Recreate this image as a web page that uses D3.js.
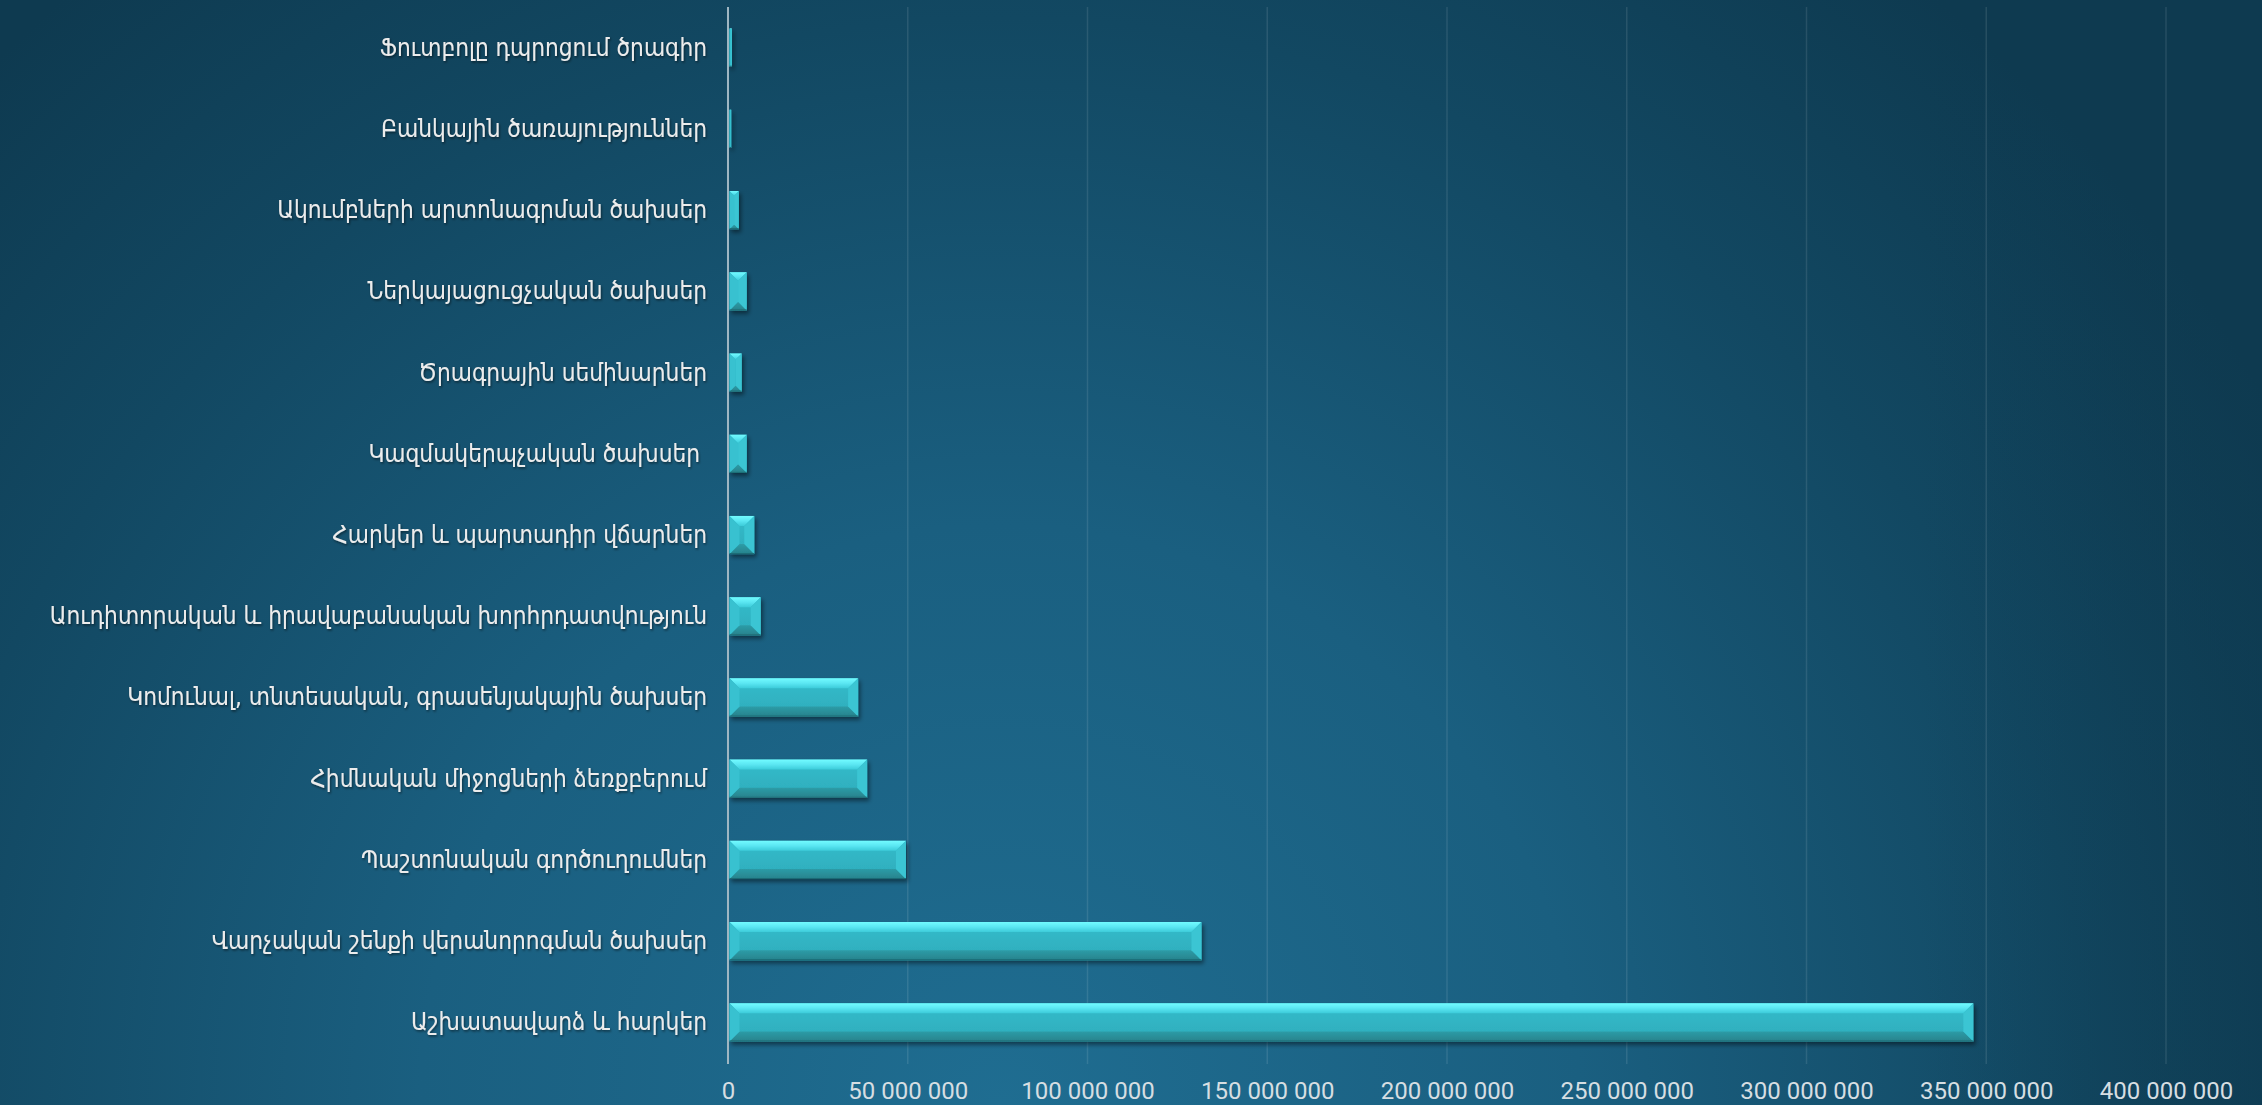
<!DOCTYPE html>
<html><head><meta charset="utf-8">
<script src="https://cdn.jsdelivr.net/npm/d3@7"></script>
<style>html,body{margin:0;padding:0;overflow:hidden;background:#123f57}</style>
</head><body><svg id="c" width="2262" height="1105"></svg>
<script>
const categories = [
  "Ֆուտբոլը դպրոցում ծրագիր",
  "Բանկային ծառայություններ",
  "Ակումբների արտոնագրման ծախսեր",
  "Ներկայացուցչական ծախսեր",
  "Ծրագրային սեմինարներ",
  "Կազմակերպչական ծախսեր ",
  "Հարկեր և պարտադիր վճարներ",
  "Աուդիտորական և իրավաբանական խորհրդատվություն",
  "Կոմունալ, տնտեսական, գրասենյակային ծախսեր",
  "Հիմնական միջոցների ձեռքբերում",
  "Պաշտոնական գործուղումներ",
  "Վարչական շենքի վերանորոգման ծախսեր",
  "Աշխատավարձ և հարկեր"
];
const values = [1.1e6, 0.9e6, 3.0e6, 5.2e6, 3.8e6, 5.2e6, 7.3e6, 9.1e6, 36.2e6, 38.7e6, 49.5e6, 131.7e6, 346.4e6];
const tickValues = [0, 50e6, 100e6, 150e6, 200e6, 250e6, 300e6, 350e6, 400e6];

const W = 2262, H = 1105;
const svg = d3.select("#c");
const defs = svg.append("defs");

// background
const bg = defs.append("radialGradient").attr("id","bg").attr("gradientUnits","userSpaceOnUse")
  .attr("cx",1000).attr("cy",1105).attr("r",1450);
[[0,"#1f6d91"],[0.4,"#1a5f80"],[0.75,"#124862"],[1,"#0e3a50"]].forEach(s=>bg.append("stop").attr("offset",s[0]).attr("stop-color",s[1]));
svg.append("rect").attr("width",W).attr("height",H).attr("fill","url(#bg)");
const edge = defs.append("linearGradient").attr("id","edge").attr("x1",0).attr("y1",0).attr("x2",1).attr("y2",0);
[[0,"#0e3a50",0],[0.85,"#0e3a50",0],[1,"#0e3a50",0.55]].forEach(s=>edge.append("stop").attr("offset",s[0]).attr("stop-color",s[1]).attr("stop-opacity",s[2]));
svg.append("rect").attr("width",W).attr("height",H).attr("fill","url(#edge)");

function vgrad(id, stops){
  const g = defs.append("linearGradient").attr("id",id).attr("x1",0).attr("y1",0).attr("x2",0).attr("y2",1);
  stops.forEach(s=>g.append("stop").attr("offset",s[0]).attr("stop-color",s[1]));
}
vgrad("gBody",[[0,"#33bccb"],[1,"#2eacbb"]]);
vgrad("gTop",[[0,"#72fbff"],[0.5,"#5ae6f2"],[1,"#3ccbd9"]]);
vgrad("gBot",[[0,"#2d9ca7"],[1,"#27828c"]]);

const sh = defs.append("filter").attr("id","shadow").attr("x","-10%").attr("y","-30%").attr("width","130%").attr("height","180%");
sh.append("feDropShadow").attr("dx",2).attr("dy",3).attr("stdDeviation",2).attr("flood-color","#000").attr("flood-opacity",0.45);
const tsh = defs.append("filter").attr("id","tshadow");
tsh.append("feDropShadow").attr("dx",1).attr("dy",1.5).attr("stdDeviation",1).attr("flood-color","#000").attr("flood-opacity",0.5);

const x = d3.scaleLinear().domain([0, 400e6]).range([728, 2166]);
const y = d3.scaleBand().domain(categories).range([7, 1063]).paddingInner(0.53).paddingOuter(0.265);
const plotTop = 7, plotBottom = 1064;

// grid lines
svg.append("g").selectAll("line").data(tickValues.slice(1)).join("line")
  .attr("x1", d=>x(d)).attr("x2", d=>x(d)).attr("y1", plotTop).attr("y2", plotBottom)
  .attr("stroke","#ffffff").attr("stroke-opacity",0.1).attr("stroke-width",1.5);

// x axis tick labels
const loc = d3.formatLocale({decimal:".", thousands:" ", grouping:[3], currency:["",""]});
const fmt = loc.format(",d");
const xAxis = d3.axisBottom(x).tickValues(tickValues).tickFormat(fmt).tickSize(0).tickPadding(0);
const ax = svg.append("g").attr("transform",`translate(0,${plotBottom+18})`).call(xAxis);
ax.select(".domain").remove();
ax.selectAll("text").attr("fill","#d6dee2").attr("font-family","Roboto, 'Liberation Sans', sans-serif")
  .attr("font-size",24).attr("dy","0.71em");

// category labels
const ly = svg.append("g").attr("filter","url(#tshadow)");
ly.selectAll("text").data(categories).join("text")
  .attr("x", 707).attr("y", d=>y(d)+y.bandwidth()/2)
  .attr("text-anchor","end").attr("dominant-baseline","central")
  .attr("fill","#ececec").attr("font-family","'DejaVu Sans Condensed', 'DejaVu Sans', sans-serif")
  .attr("font-size",24.2).style("white-space","pre").text(d=>d);

// bars
const bars = svg.append("g").attr("filter","url(#shadow)");
const data = categories.map((c,i)=>({c, v: values[i]}));
const bg2 = bars.selectAll("g").data(data).join("g");
bg2.each(function(d){
  const g = d3.select(this);
  const x0 = x(0)+1.5, x1 = x(d.v), y0 = y(d.c), y1 = y0 + y.bandwidth();
  const w = x1-x0, h = y1-y0;
  const b = Math.min(10, w/2, h/2);
  g.append("rect").attr("x",x0).attr("y",y0).attr("width",w).attr("height",h).attr("fill","url(#gBody)");
  g.append("path").attr("d",`M${x0},${y0}L${x1},${y0}L${x1-b},${y0+b}L${x0+b},${y0+b}Z`).attr("fill","url(#gTop)");
  g.append("path").attr("d",`M${x0},${y1}L${x1},${y1}L${x1-b},${y1-b}L${x0+b},${y1-b}Z`).attr("fill","url(#gBot)");
  g.append("path").attr("d",`M${x0},${y0}L${x0+b},${y0+b}L${x0+b},${y1-b}L${x0},${y1}Z`).attr("fill","#37c1d0");
  g.append("path").attr("d",`M${x1},${y0}L${x1-b},${y0+b}L${x1-b},${y1-b}L${x1},${y1}Z`).attr("fill","#3ac5d3");
  g.append("rect").attr("x",x0).attr("y",y1-1).attr("width",w).attr("height",1).attr("fill","#1e6b74");
});

// y axis line
svg.append("line").attr("x1",x(0)).attr("x2",x(0)).attr("y1",plotTop).attr("y2",plotBottom)
  .attr("stroke","#9fb6c2").attr("stroke-width",2);
</script></body></html>
